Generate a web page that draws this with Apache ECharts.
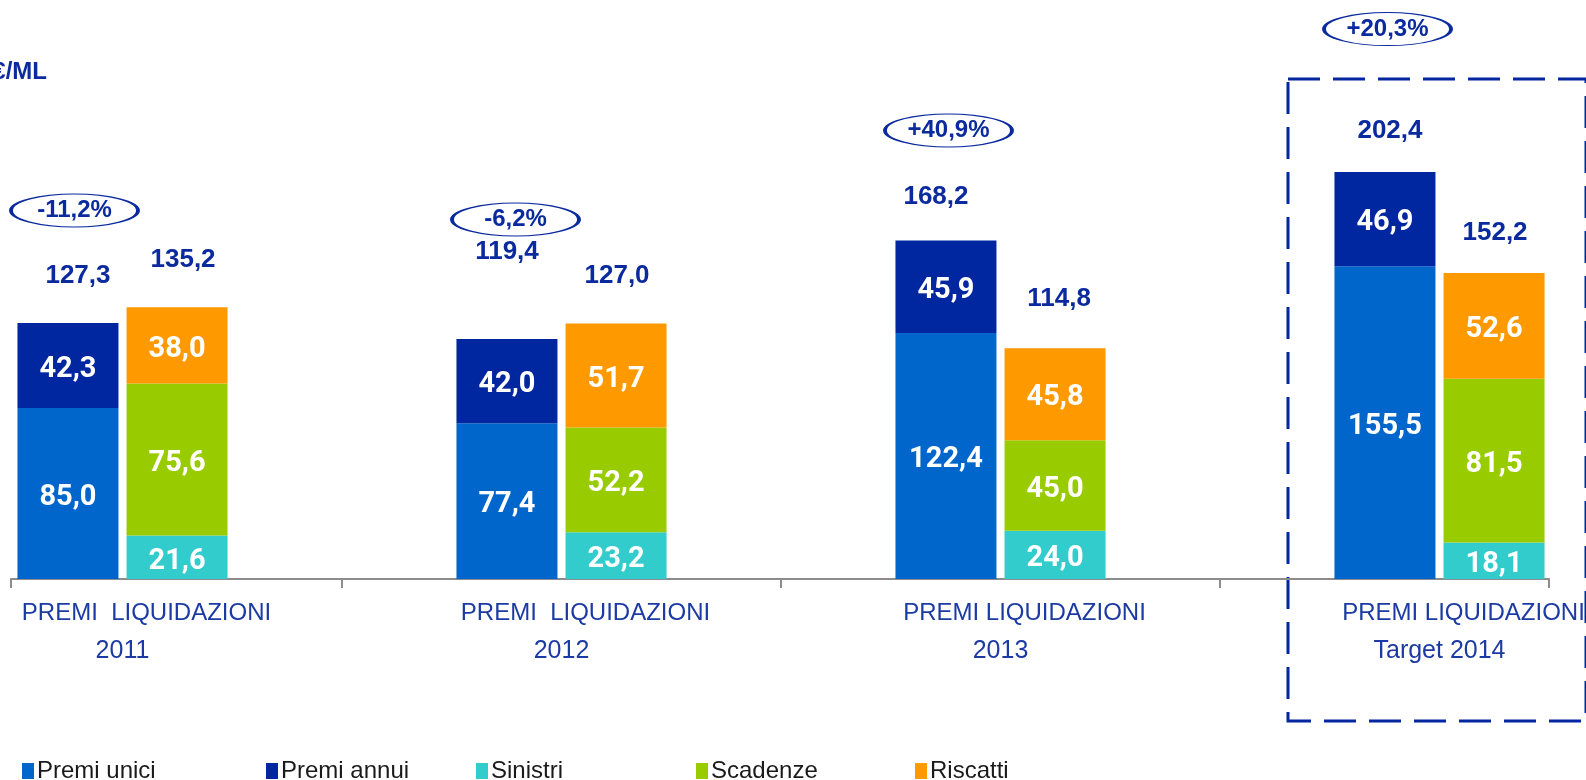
<!DOCTYPE html>
<html>
<head>
<meta charset="utf-8">
<title>Premi e liquidazioni</title>
<script src="https://cdn.jsdelivr.net/npm/echarts@6.0.0/dist/echarts.min.js"></script>
<style>
  html, body { margin: 0; padding: 0; background: #fff; }
  #chart { width: 1586px; height: 780px; }
</style>
</head>
<body>
<div id="chart"></div>
<script>
// dati (€/ML)
const years = ['2011', '2012', '2013', 'Target 2014'];
const subLabels = ['PREMI  LIQUIDAZIONI', 'PREMI  LIQUIDAZIONI', 'PREMI LIQUIDAZIONI', 'PREMI LIQUIDAZIONI'];
const premiUnici = [85.0, 77.4, 122.4, 155.5];
const premiAnnui = [42.3, 42.0, 45.9, 46.9];
const sinistri = [21.6, 23.2, 24.0, 18.1];
const scadenze = [75.6, 52.2, 45.0, 81.5];
const riscatti = [38.0, 51.7, 45.8, 52.6];
const totPremi = [127.3, 119.4, 168.2, 202.4];
const totLiq = [135.2, 127.0, 114.8, 152.2];
const growth = ['-11,2%', '-6,2%', '+40,9%', '+20,3%'];

// posizione delle ellissi (in unità dell'asse) e spostamenti delle etichette
const growthAt = [183.3, 178.8, 223.1, 273.5];
const growthShift = [-48, -46, -52, -52];
const totPremiGap = [34, 74, 31, 28];
const totPremiShift = [10, 0, -10, 5];
const totLiqGap = [34, 35, 36, 27];
const totLiqShift = [6, 1, 4, 1];

const NAVY = '#0a2a9e';
const fmt = v => v.toFixed(1).replace('.', ',');

const chart = echarts.init(document.getElementById('chart'));

const segLabel = {
    show: true,
    position: 'inside',
    offset: [0, 4],
    color: '#fff',
    fontFamily: 'Roboto',
    fontWeight: 'bold',
    fontSize: 29,
    formatter: p => fmt(p.value)
};

const seg = (name, data, stack, color) => ({
    name: name,
    type: 'bar',
    stack: stack,
    stackStrategy: 'all',
    barWidth: 101,
    barGap: '8%',
    itemStyle: { color: color },
    label: segLabel,
    data: data
});

const totalSeries = (stack, totals, gaps, shifts) => ({
    name: 'tot' + stack,
    type: 'bar',
    stack: stack,
    stackStrategy: 'all',
    barWidth: 101,
    barGap: '8%',
    itemStyle: { color: 'transparent' },
    label: {
        show: true,
        position: 'top',
        color: NAVY,
        fontFamily: 'Liberation Sans, Arial, sans-serif',
        fontWeight: 'bold',
        fontSize: 26,
        formatter: p => fmt(totals[p.dataIndex])
    },
    data: totals.map((t, i) => ({ value: 0, label: { distance: gaps[i], offset: [shifts[i], 0] } }))
});

const legendNames = ['Premi unici', 'Premi annui', 'Sinistri', 'Scadenze', 'Riscatti'];
const legendLeft = [22, 266, 476, 696, 915];

const option = {
    animation: false,
    grid: [
        { left: -97, right: -73, top: 16, bottom: 201, outerBoundsMode: 'none' },
        { left: 11, right: 37, top: 16, bottom: 201, outerBoundsMode: 'none' }
    ],
    legend: legendNames.map((n, i) => ({
        data: [n],
        left: legendLeft[i],
        top: 759,
        padding: 0,
        icon: 'rect',
        itemWidth: 12,
        itemHeight: 16,
        itemGap: 0,
        selectedMode: false,
        textStyle: {
            fontFamily: 'Liberation Sans, Arial, sans-serif',
            fontSize: 24,
            color: '#1a1a1a',
            padding: [0, 0, 0, -2]
        }
    })),
    xAxis: [
        {
            type: 'category',
            gridIndex: 0,
            data: years,
            axisLine: { show: false },
            axisTick: { show: true, length: 9, lineStyle: { color: '#8c8c8c', width: 2 } },
            axisLabel: {
                margin: 16,
                interval: 0,
                formatter: (v, i) => '{a|' + subLabels[i] + '}\n{b|' + v + '}',
                rich: {
                    a: { fontFamily: 'Liberation Sans, Arial', fontSize: 24, lineHeight: 36, color: '#1c3aa3', padding: [0, 0, 0, 48] },
                    b: { fontFamily: 'Liberation Sans, Arial', fontSize: 25, lineHeight: 40, color: '#1c3aa3' }
                }
            }
        },
        {
            type: 'value',
            gridIndex: 1,
            min: 0,
            max: 1,
            interval: 1,
            axisLine: { show: true, lineStyle: { color: '#8c8c8c', width: 2 } },
            axisTick: { show: true, length: 9, lineStyle: { color: '#8c8c8c', width: 2 } },
            axisLabel: { show: false },
            splitLine: { show: false }
        }
    ],
    yAxis: [
        { type: 'value', gridIndex: 0, min: 0, max: 280, show: false, splitLine: { show: false } },
        { type: 'value', gridIndex: 1, min: 0, max: 280, show: false, splitLine: { show: false } }
    ],
    series: [
        seg('Premi unici', premiUnici, 'P', '#0066cc'),
        seg('Premi annui', premiAnnui, 'P', '#0026a0'),
        totalSeries('P', totPremi, totPremiGap, totPremiShift),
        seg('Sinistri', sinistri, 'L', '#33cccc'),
        seg('Scadenze', scadenze, 'L', '#99cc00'),
        seg('Riscatti', riscatti, 'L', '#ff9900'),
        totalSeries('L', totLiq, totLiqGap, totLiqShift),
        {
            name: 'crescita',
            type: 'scatter',
            symbol: 'circle',
            symbolSize: [127, 33],
            itemStyle: { color: '#fff', borderColor: NAVY, borderWidth: 2, opacity: 1 },
            label: {
                show: true,
                position: 'inside',
                color: NAVY,
                fontFamily: 'Liberation Sans, Arial',
                fontWeight: 'bold',
                fontSize: 24,
                formatter: p => growth[p.dataIndex]
            },
            z: 5,
            data: growthAt.map((y, i) => ({ value: [years[i], y], symbolOffset: [growthShift[i], 0] }))
        }
    ],
    graphic: [
        {
            type: 'rect',
            shape: { x: 1288, y: 79, width: 298, height: 642 },
            style: { fill: 'none', stroke: '#0026a0', lineWidth: 3, lineDash: [32, 13] },
            silent: true
        },
        {
            type: 'text',
            x: 47,
            y: 72,
            style: {
                text: '€/ML',
                fill: NAVY,
                font: 'bold 24px "Liberation Sans", Arial',
                textAlign: 'right',
                textVerticalAlign: 'middle'
            }
        }
    ]
};

chart.setOption(option);
</script>
</body>
</html>
